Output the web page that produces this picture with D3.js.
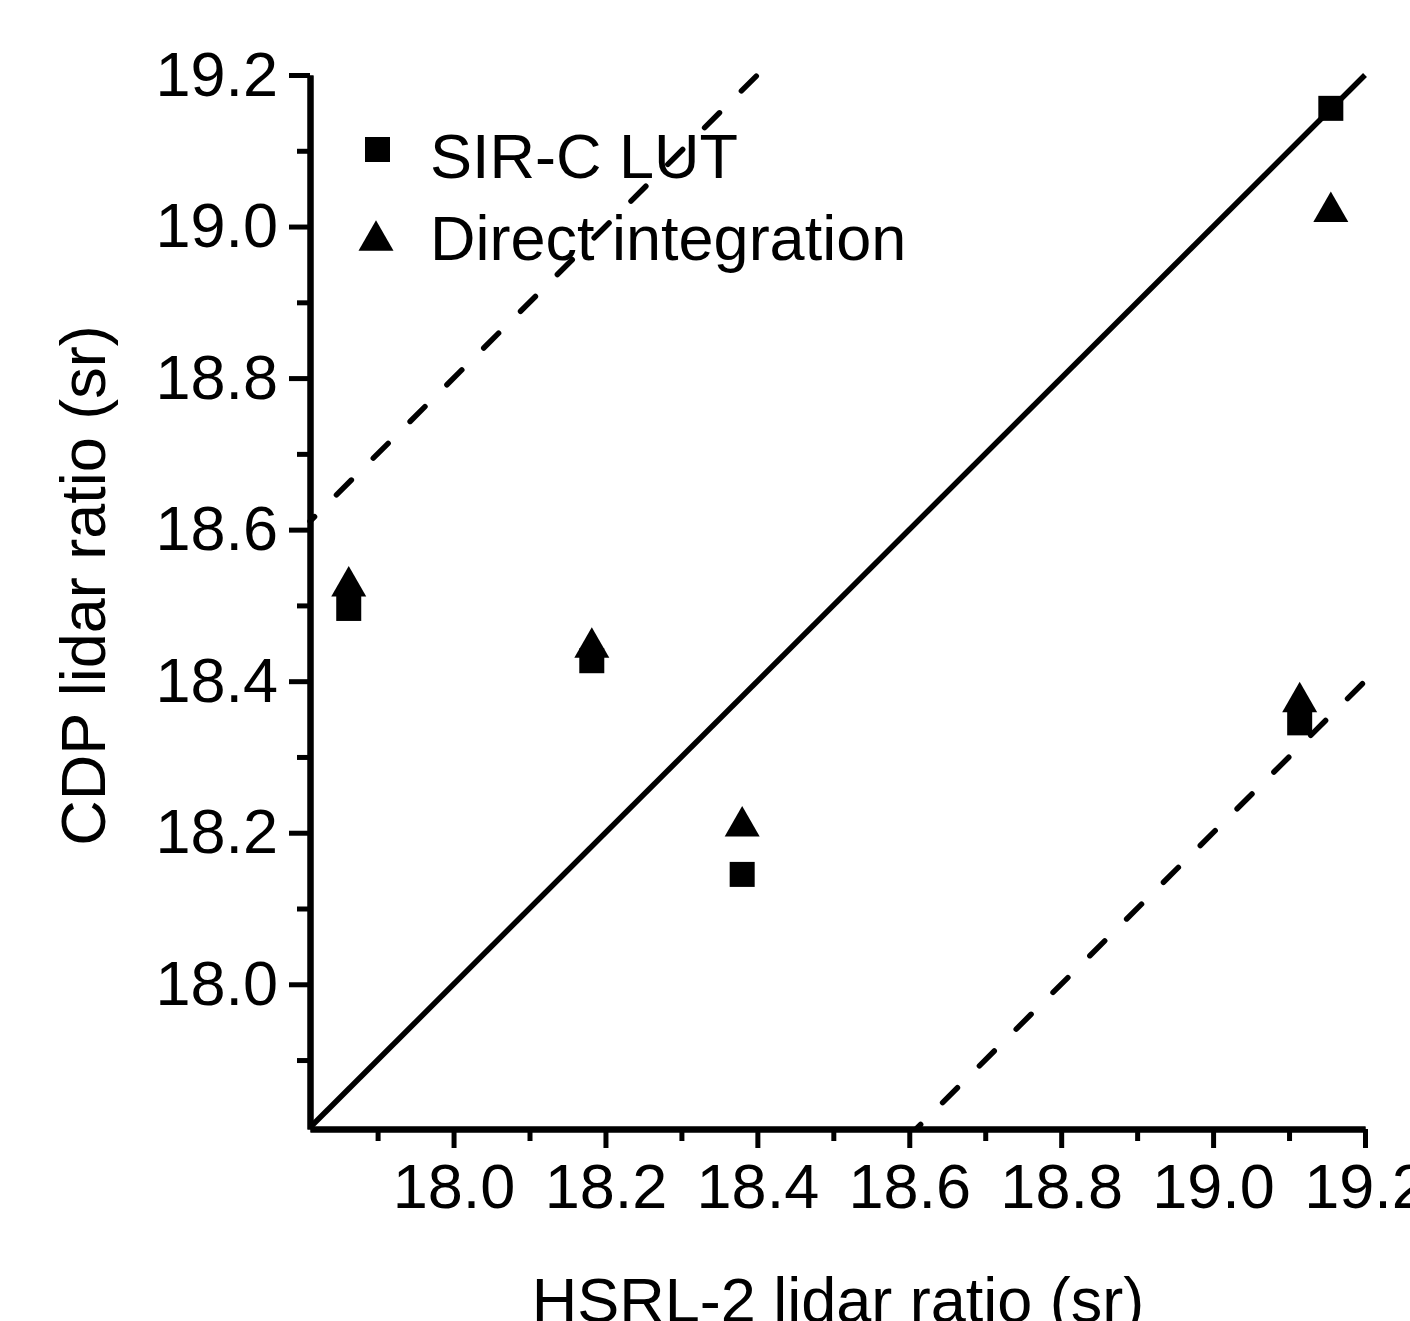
<!DOCTYPE html>
<html>
<head>
<meta charset="utf-8">
<script src="https://cdn.jsdelivr.net/npm/d3@7"></script>
<style>
  html, body { margin: 0; padding: 0; background: #fff; }
  svg { display: block; }
  text { font-family: "Liberation Sans", Arial, sans-serif; fill: #000; }
</style>
</head>
<body>
<div id="chart"></div>
<script>
// HSRL-2 lidar ratio (x) for each case
const hsrl = [17.862, 18.182, 18.380, 19.114, 19.155];
// CDP lidar ratio, SIR-C LUT
const sircLut = [18.496, 18.427, 18.145, 18.345, 19.156];
// CDP lidar ratio, direct integration
const directInt = [18.532, 18.451, 18.215, 18.379, 19.026];

const majorTicks = [18.0, 18.2, 18.4, 18.6, 18.8, 19.0, 19.2];
const minorTicks = [17.9, 18.1, 18.3, 18.5, 18.7, 18.9, 19.1];
const legendLabels = ['SIR-C LUT', 'Direct integration'];
// offset of the dashed envelope lines from 1:1
const envelope = 0.8;

const W = 1410, H = 1321;
const fs = 63;

const svg = d3.select('#chart').append('svg')
  .attr('width', W)
  .attr('height', H)
  .attr('viewBox', `0,0,${W},${H}`);

const x = d3.scaleLinear().domain([17.811, 19.2]).range([310, 1365]);
const y = d3.scaleLinear().domain([17.809, 19.2]).range([1129, 75]);

const xMin = x.domain()[0], xMax = x.domain()[1];
const yMin = y.domain()[0], yMax = y.domain()[1];

// reference lines
const lineGen = d3.line().x(d => x(d[0])).y(d => y(d[1]));
const lines = svg.append('g').attr('class', 'ref-lines')
  .attr('fill', 'none')
  .attr('stroke', '#000')
  .attr('stroke-width', 5.5);

lines.append('path')
  .attr('d', lineGen([[xMin, xMin], [xMax, xMax]]));

lines.append('path')
  .attr('d', lineGen([[xMin, xMin + envelope], [yMax - envelope, yMax]]))
  .attr('stroke-dasharray', '21,31')
  .attr('stroke-dashoffset', 14.6)
  .attr('stroke-linecap', 'round');

lines.append('path')
  .attr('d', lineGen([[yMin + envelope, yMin], [xMax, xMax - envelope]]))
  .attr('stroke-dasharray', '21,31')
  .attr('stroke-dashoffset', 14.6)
  .attr('stroke-linecap', 'round');

// axes
function styleAxis(g) {
  g.select('.domain').attr('stroke', '#000').attr('stroke-width', 6);
  g.selectAll('.tick line').attr('stroke', '#000').attr('stroke-width', 5);
  g.selectAll('.tick text')
    .attr('font-size', fs)
    .attr('font-family', '"Liberation Sans", Arial, sans-serif')
    .attr('fill', '#000');
}

svg.append('g')
  .attr('transform', `translate(0,${y.range()[0]})`)
  .call(d3.axisBottom(x).tickValues(minorTicks).tickSize(12).tickSizeOuter(0).tickFormat(''))
  .call(styleAxis);

svg.append('g')
  .attr('transform', `translate(0,${y.range()[0]})`)
  .call(d3.axisBottom(x).tickValues(majorTicks).tickSize(19).tickPadding(15).tickSizeOuter(0).tickFormat(d3.format('.1f')))
  .call(styleAxis);

svg.append('g')
  .attr('transform', `translate(${x.range()[0]},0)`)
  .call(d3.axisLeft(y).tickValues(minorTicks).tickSize(13).tickSizeOuter(0).tickFormat(''))
  .call(styleAxis);

svg.append('g')
  .attr('transform', `translate(${x.range()[0]},0)`)
  .call(d3.axisLeft(y).tickValues(majorTicks).tickSize(21).tickPadding(11).tickSizeOuter(0).tickFormat(d3.format('.1f')))
  .call(styleAxis);

// axis titles
svg.append('text')
  .attr('x', 838)
  .attr('y', 1322)
  .attr('text-anchor', 'middle')
  .attr('font-size', fs)
  .text('HSRL-2 lidar ratio (sr)');

svg.append('text')
  .attr('transform', 'translate(105,585.5) rotate(-90)')
  .attr('text-anchor', 'middle')
  .attr('font-size', fs)
  .text('CDP lidar ratio (sr)');

// markers
const sq = 25;
const triW = 35, triH = 30.5;
const triPath = `M0,${-triH / 2}L${triW / 2},${triH / 2}L${-triW / 2},${triH / 2}Z`;

const marks = svg.append('g').attr('class', 'marks');

marks.selectAll('rect.lut')
  .data(hsrl.map((h, i) => [h, sircLut[i]]))
  .join('rect')
  .attr('class', 'lut')
  .attr('x', d => x(d[0]) - sq / 2)
  .attr('y', d => y(d[1]) - sq / 2)
  .attr('width', sq)
  .attr('height', sq)
  .attr('fill', '#000');

marks.selectAll('path.direct')
  .data(hsrl.map((h, i) => [h, directInt[i]]))
  .join('path')
  .attr('class', 'direct')
  .attr('d', triPath)
  .attr('transform', d => `translate(${x(d[0])},${y(d[1])})`)
  .attr('fill', '#000');

// legend
const legend = svg.append('g').attr('class', 'legend');
legend.append('rect')
  .attr('x', 377.5 - sq / 2)
  .attr('y', 149.5 - sq / 2)
  .attr('width', sq)
  .attr('height', sq)
  .attr('fill', '#000');
legend.append('path')
  .attr('d', triPath)
  .attr('transform', 'translate(376,235.5)')
  .attr('fill', '#000');

legend.selectAll('text')
  .data(legendLabels)
  .join('text')
  .attr('x', 430)
  .attr('y', (d, i) => 178 + i * 82)
  .attr('font-size', fs)
  .text(d => d);
</script>
</body>
</html>
